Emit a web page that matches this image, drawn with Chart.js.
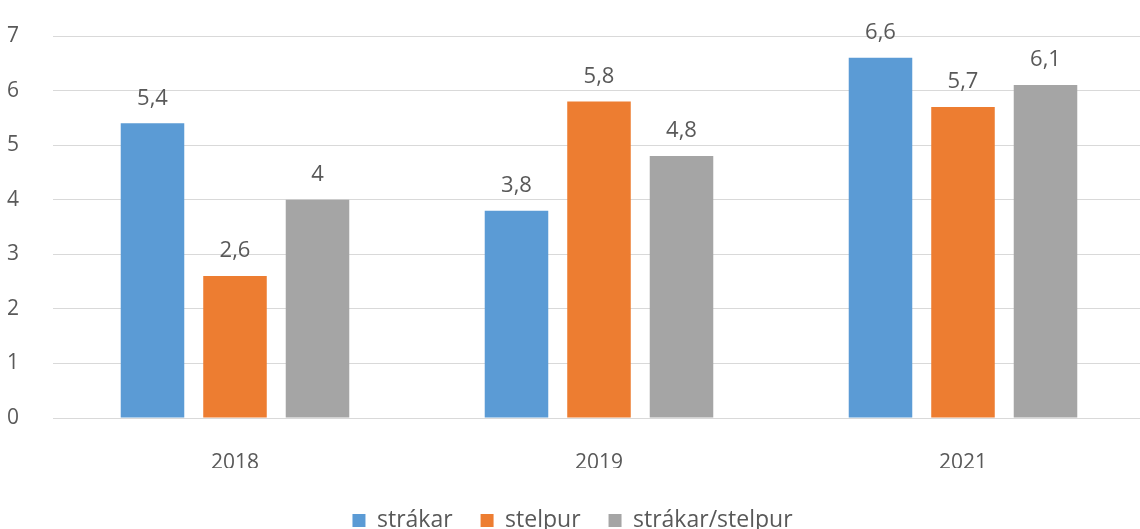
<!DOCTYPE html>
<html>
<head>
<meta charset="utf-8">
<script src="https://cdn.jsdelivr.net/npm/chart.js@4/dist/chart.umd.min.js"></script>
<style>
  html, body { margin: 0; padding: 0; background: #fff; overflow: hidden; }
  #wrap { position: relative; width: 1145px; height: 529px; }
</style>
</head>
<body>
<div id="wrap"><canvas id="c" width="1145" height="529"></canvas></div>
<script>
const categories = ['2018', '2019', '2021'];
const seriesNames = ['strákar', 'stelpur', 'strákar/stelpur'];
const strakar = [5.4, 3.8, 6.6];
const stelpur = [2.6, 5.8, 5.7];
const strakarStelpur = [4, 4.8, 6.1];
const yTicks = [0, 1, 2, 3, 4, 5, 6, 7];
const colors = ['#5B9BD5', '#ED7D31', '#A5A5A5'];

const FONT = "'Open Sans', sans-serif";
const TXT = '#595959';
const LEG_PAD = 28;
const LEG_FONT = 23;

const dataLabels = {
  id: 'dataLabels',
  afterDatasetsDraw(chart) {
    const ctx = chart.ctx;
    ctx.save();
    ctx.font = "22px " + FONT;
    ctx.fillStyle = TXT;
    ctx.textAlign = 'center';
    ctx.textBaseline = 'bottom';
    chart.data.datasets.forEach((ds, i) => {
      chart.getDatasetMeta(i).data.forEach((bar, j) => {
        const txt = String(ds.data[j]).replace('.', ',');
        ctx.fillText(txt, bar.x, bar.y - 14);
      });
    });
    ctx.restore();
  }
};

const legendShift = {
  id: 'legendShift',
  afterLayout(chart) {
    const lg = chart.legend;
    if (!lg) return;
    const h = lg.bottom - lg.top;
    lg.top = 481;
    lg.bottom = lg.top + h;
  }
};

new Chart(document.getElementById('c'), {
  type: 'bar',
  data: {
    labels: categories,
    datasets: [
      { label: seriesNames[0], data: strakar, backgroundColor: colors[0] },
      { label: seriesNames[1], data: stelpur, backgroundColor: colors[1] },
      { label: seriesNames[2], data: strakarStelpur, backgroundColor: colors[2] }
    ]
  },
  options: {
    responsive: false,
    animation: false,
    layout: { padding: { top: 36, right: 0, left: 0, bottom: 0 } },
    datasets: { bar: { categoryPercentage: 0.68, barPercentage: 0.77 } },
    plugins: {
      legend: {
        position: 'bottom',
        labels: {
          boxWidth: 13, boxHeight: 13, padding: LEG_PAD,
          color: TXT,
          font: { family: FONT, size: LEG_FONT }
        }
      },
      tooltip: { enabled: false }
    },
    scales: {
      x: {
        grid: { display: false },
        border: { display: true, color: '#D9D9D9', width: 1 },
        ticks: { color: TXT, font: { family: FONT, size: 21 }, padding: 24 },
        afterFit(scale) {
          const lh = scale.chart.legend ? scale.chart.legend.height : 30;
          scale.height = Math.max(2, 529 - 418 - lh);
          scale.paddingLeft = 0; scale.paddingRight = 0;
        }
      },
      y: {
        min: 0, max: 7,
        afterBuildTicks(scale) { scale.ticks = yTicks.map(v => ({ value: v })); },
        grid: { color: '#D9D9D9', drawTicks: false, lineWidth: 1 },
        border: { display: false },
        ticks: { color: TXT, font: { family: FONT, size: 21 }, padding: 34 },
        afterFit(scale) { scale.width = 53; scale.paddingTop = 0; scale.paddingBottom = 0; }
      }
    }
  },
  plugins: [dataLabels, legendShift]
});
</script>
</body>
</html>
